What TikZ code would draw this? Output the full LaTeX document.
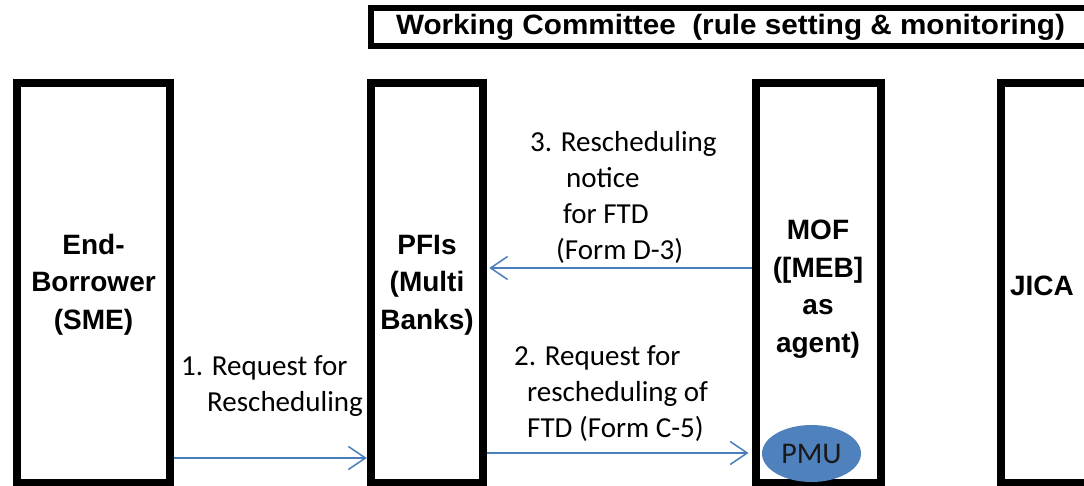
\documentclass[tikz,border=0pt]{standalone}
\usepackage{fontspec}
\setmainfont{Liberation Sans}
\newfontfamily\calfont{Carlito}
\usetikzlibrary{arrows.meta,shapes.geometric}
\definecolor{arrowblue}{HTML}{4A7EBB}
\definecolor{pmublue}{HTML}{4F81BD}
\begin{document}
\begin{tikzpicture}[x=1pt,y=-1pt,
  actor/.style={draw=black, line width=8pt, fill=white, minimum height=400pt,
    inner sep=0pt, align=center, font=\fontsize{28}{37.5}\selectfont\bfseries},
  flow/.style={draw=arrowblue, line width=1.5pt, -{Straight Barb[length=17pt,width=23pt]}},
  lbl/.style={inner sep=0pt, align=left, font=\calfont\fontsize{29}{36}\selectfont}]
\clip (0,0) rectangle (1084,486);
\useasboundingbox (0,0) rectangle (1084,486);
\fill[white] (0,0) rectangle (1084,486);
\node[actor, minimum height=38pt, line width=6pt, minimum width=719pt] (wc) at (730.5,27) {\raisebox{-3pt}{\scalebox{1.06}[1]{Working Committee\ \ (rule setting \& monitoring)}}};
\node[actor, minimum width=153pt] (eb) at (93.5,283) {\rule{0pt}{23pt}End-\\Borrower\\(SME)};
\node[actor, minimum width=112.5pt] (pfi) at (427,283) {\rule{0pt}{23pt}PFIs\\(Multi\\Banks)};
\node[actor, minimum width=125pt] (mof) at (818,283) {\rule{0pt}{32pt}MOF\\([MEB]\\as\\agent)};
\node[actor, minimum width=128pt, text width=110pt, align=left] (jica) at (1065,283) {\rule{0pt}{25pt}JICA};
\coordinate (y1) at (0,458);
\coordinate (y2) at (0,453);
\coordinate (y3) at (0,268);
\draw[flow] (eb.east |- y1) -- (pfi.west |- y1);
\draw[flow, shorten >=3pt] (pfi.east |- y2) -- (mof.west |- y2);
\draw[flow, shorten >=2pt] (mof.west |- y3) -- (pfi.east |- y3);
\node[ellipse, fill=pmublue, minimum width=99pt, minimum height=57pt, inner sep=0pt,
  font=\calfont\fontsize{30}{32}\selectfont, text=black!90] (pmu) at (811.5,453.5) {PMU};
\node[lbl, anchor=west] (l3) at (530,197) {3. Rescheduling\\\hspace*{36pt}notice\\\hspace*{33pt}for FTD\\\hspace*{26pt}(Form D-3)};
\node[lbl, anchor=west] (l1) at (181,386) {1. Request for\\\hspace*{26pt}Rescheduling};
\node[lbl, anchor=west] (l2) at (514,394) {2. Request for\\\hspace*{13pt}rescheduling of\\\hspace*{13pt}FTD (Form C-5)};
\end{tikzpicture}
\end{document}
